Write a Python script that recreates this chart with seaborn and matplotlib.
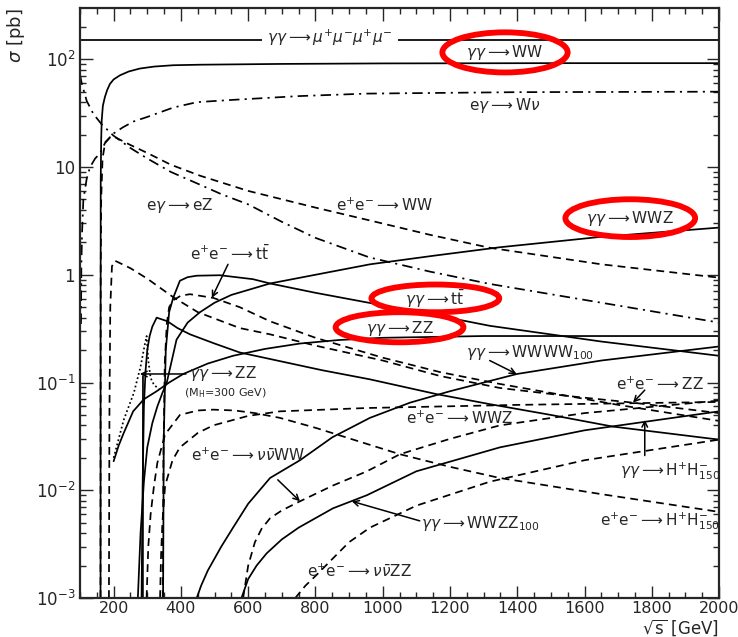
import numpy as np
import matplotlib
matplotlib.use("Agg")
import matplotlib.pyplot as plt
import seaborn as sns
from matplotlib.patches import Ellipse
from matplotlib.ticker import LogLocator, NullFormatter, FixedLocator, MultipleLocator

# --- curves (sqrt(s) in GeV, sigma in pb) ---
gg_4mu_x = [100, 2000]
gg_4mu_y = [150, 150]

gg_ww_x = [161, 161.3, 161.6, 163, 164.5, 168, 174, 181, 189, 200, 219, 245, 278, 320, 377, 457, 700, 1000, 1500, 2000]
gg_ww_y = [1e-3, 0.5, 7.5, 18, 27, 37, 44.6, 52, 59, 65, 71, 77, 82, 85.5, 88, 89, 90.5, 91.5, 92, 92]

eg_wnu_x = [103, 104, 106, 110, 120, 130, 145, 159, 174, 199, 228, 260, 298, 377, 448, 555, 750, 953, 1400, 2000]
eg_wnu_y = [0.35, 1.2, 2.4, 5, 7.8, 10, 12, 13.3, 16.6, 20.4, 23.4, 26.5, 29, 35.6, 40, 42, 45.5, 48, 49.5, 50]

eg_ez_x = [100, 105, 120, 140, 164, 199, 250, 300, 370, 450, 520, 600, 700, 800, 960, 1140, 1320, 1650, 2000]
eg_ez_y = [72, 60, 41, 31, 25, 19.6, 15, 12, 9, 7, 5.6, 4.5, 3.1, 2.2, 1.45, 1.07, 0.82, 0.55, 0.36]

ee_ww_x = [161, 161.5, 163, 167, 175, 190, 200, 250, 300, 370, 457, 600, 800, 960, 1140, 1318, 1650, 2000]
ee_ww_y = [1e-3, 1, 5, 12, 17, 19, 19.2, 16, 13.5, 10.5, 8.3, 6, 4.2, 3.2, 2.35, 1.78, 1.25, 0.94]

ee_zz_x = [186, 187.5, 190, 195, 204, 250, 300, 377, 450, 575, 665, 800, 1000, 1170, 1348, 1550, 1744, 2000]
ee_zz_y = [1e-3, 0.05, 0.5, 1.2, 1.35, 1.15, 0.92, 0.62, 0.45, 0.32, 0.28, 0.22, 0.16, 0.115, 0.089, 0.075, 0.065, 0.052]

ee_tt_x = [346, 348, 352, 358, 365, 377, 400, 427, 496, 575, 665, 800, 1000, 1170, 1348, 1700, 2000]
ee_tt_y = [1e-3, 0.02, 0.15, 0.35, 0.5, 0.58, 0.64, 0.66, 0.61, 0.5, 0.37, 0.26, 0.17, 0.125, 0.097, 0.062, 0.044]

gg_tt_x = [347, 349, 355, 365, 377, 397, 420, 447, 516, 614, 665, 800, 1000, 1160, 1318, 1650, 2000]
gg_tt_y = [1e-3, 0.03, 0.2, 0.45, 0.61, 0.88, 0.95, 0.98, 0.99, 0.91, 0.83, 0.68, 0.52, 0.42, 0.336, 0.24, 0.177]

gg_wwz_x = [272, 280, 290, 300, 315, 330, 345, 358, 387, 420, 457, 500, 550, 665, 800, 962, 1150, 1348, 1650, 2000]
gg_wwz_y = [1e-3, 0.004, 0.012, 0.025, 0.042, 0.06, 0.08, 0.1, 0.25, 0.36, 0.45, 0.55, 0.65, 0.83, 1.0, 1.25, 1.5, 1.8, 2.25, 2.74]

gg_zz_x = [200, 215, 230, 258, 290, 328, 365, 407, 480, 555, 650, 754, 870, 1000, 1300, 1600, 2000]
gg_zz_y = [0.0186, 0.026, 0.034, 0.054, 0.07, 0.083, 0.1, 0.12, 0.15, 0.177, 0.205, 0.23, 0.248, 0.26, 0.27, 0.27, 0.27]

gg_zz_mh_x = [200, 215, 230, 245, 260, 280, 292, 298, 303, 310, 320, 335]
gg_zz_mh_y = [0.02, 0.03, 0.045, 0.06, 0.08, 0.14, 0.22, 0.27, 0.16, 0.11, 0.095, 0.087]

gg_zz_peak_x = [287, 287.2]
gg_zz_peak_y = [1e-3, 0.115]

gg_hh_x = [283, 286, 290, 295, 300, 307, 315, 328, 360, 390, 427, 500, 575, 694, 820, 962, 1160, 1318, 1500, 1684, 2000]
gg_hh_y = [1e-3, 0.01, 0.06, 0.13, 0.2, 0.27, 0.33, 0.40, 0.37, 0.32, 0.28, 0.23, 0.19, 0.158, 0.13, 0.107, 0.078, 0.063, 0.05, 0.039, 0.0295]

gg_wwww_x = [447, 460, 480, 520, 555, 600, 665, 754, 850, 962, 1081, 1200, 1399, 1650, 2000]
gg_wwww_y = [1e-3, 0.0013, 0.0018, 0.003, 0.0045, 0.0075, 0.013, 0.019, 0.031, 0.047, 0.065, 0.083, 0.12, 0.16, 0.216]

gg_wwzz_x = [580, 600, 625, 655, 700, 750, 852, 953, 1100, 1348, 1600, 2000]
gg_wwzz_y = [1e-3, 0.0015, 0.002, 0.0026, 0.0035, 0.0045, 0.0068, 0.009, 0.015, 0.025, 0.036, 0.054]

ee_nnww_x = [585, 600, 620, 640, 665, 700, 754, 850, 953, 1051, 1200, 1348, 1600, 2000]
ee_nnww_y = [1e-3, 0.002, 0.0033, 0.0044, 0.0055, 0.0065, 0.0079, 0.011, 0.015, 0.0216, 0.03, 0.04, 0.052, 0.068]

ee_nnzz_x = [740, 770, 800, 850, 900, 962, 1100, 1318, 1600, 2000]
ee_nnzz_y = [1e-3, 0.0013, 0.0016, 0.0023, 0.0033, 0.0045, 0.0072, 0.012, 0.019, 0.0295]

ee_wwz_x = [338, 341, 345, 353, 375, 397, 450, 496, 600, 694, 953, 1400, 2000]
ee_wwz_y = [1e-3, 0.0025, 0.005, 0.011, 0.019, 0.025, 0.034, 0.04, 0.049, 0.054, 0.058, 0.062, 0.066]

ee_hh_x = [298, 303, 310, 320, 330, 353, 397, 450, 496, 560, 620, 694, 800, 920, 1051, 1200, 1348, 1650, 2000]
ee_hh_y = [1e-3, 0.003, 0.006, 0.011, 0.018, 0.033, 0.05, 0.055, 0.056, 0.055, 0.052, 0.047, 0.038, 0.029, 0.0216, 0.0165, 0.013, 0.0092, 0.0063]

x_ticks = [200, 400, 600, 800, 1000, 1200, 1400, 1600, 1800, 2000]
y_ticks = [1e-3, 1e-2, 1e-1, 1, 10, 100]
y_tick_labels = [r"$10^{-3}$", r"$10^{-2}$", r"$10^{-1}$", "1", "10", r"$10^{2}$"]

sns.set_style("ticks")
plt.rcParams["font.family"] = ["DejaVu Sans"]
plt.rcParams["mathtext.fontset"] = "dejavusans"

fig = plt.figure(figsize=(7.38, 6.37), dpi=100)
ax = fig.add_axes([0.1084, 0.0612, 0.866, 0.926])

SOLID = "-"
DASH = (0, (4.5, 3))
DASHDOT = (0, (6, 3, 1.2, 3))
DOT = (0, (1, 1.5))

curves = [
    (gg_4mu_x, gg_4mu_y, SOLID),
    (gg_ww_x, gg_ww_y, SOLID),
    (eg_wnu_x, eg_wnu_y, DASHDOT),
    (eg_ez_x, eg_ez_y, DASHDOT),
    (ee_ww_x, ee_ww_y, DASH),
    (ee_zz_x, ee_zz_y, DASH),
    (ee_tt_x, ee_tt_y, DASH),
    (gg_tt_x, gg_tt_y, SOLID),
    (gg_wwz_x, gg_wwz_y, SOLID),
    (gg_zz_x, gg_zz_y, SOLID),
    (gg_zz_mh_x, gg_zz_mh_y, DOT),
    (gg_zz_peak_x, gg_zz_peak_y, SOLID),
    (gg_hh_x, gg_hh_y, SOLID),
    (gg_wwww_x, gg_wwww_y, SOLID),
    (gg_wwzz_x, gg_wwzz_y, SOLID),
    (ee_nnww_x, ee_nnww_y, DASH),
    (ee_nnzz_x, ee_nnzz_y, DASH),
    (ee_wwz_x, ee_wwz_y, DASH),
    (ee_hh_x, ee_hh_y, DASH),
]
for xs, ys, ls in curves:
    sns.lineplot(x=xs, y=ys, ax=ax, color="black", lw=1.25, linestyle=ls,
                 estimator=None, sort=False)

ax.set_yscale("log")
ax.set_xlim(100, 2000)
ax.set_ylim(1e-3, 298)

ax.xaxis.set_major_locator(FixedLocator(x_ticks))
ax.xaxis.set_minor_locator(MultipleLocator(50))
ax.set_yticks(y_ticks)
ax.set_yticklabels(y_tick_labels)
ax.yaxis.set_minor_locator(LogLocator(base=10, subs=np.arange(2, 10)))
ax.yaxis.set_minor_formatter(NullFormatter())
ax.tick_params(which="both", direction="in", top=True, right=True, labelsize=12, width=1)
ax.tick_params(axis="x", pad=2, labelsize=11.5)
ax.tick_params(which="major", length=9)
ax.tick_params(which="minor", length=4.5)
for s in ax.spines.values():
    s.set_linewidth(1.6)

ax.set_xlabel(r"$\sqrt{\mathrm{s}}$ [GeV]", fontsize=12, ha="right", va="top")
ax.xaxis.set_label_coords(1.0, -0.0335)
ax.set_ylabel(r"$\sigma$ [pb]", loc="top", fontsize=13, labelpad=6)

fs = 11
txt = dict(fontsize=fs, ha="center", va="center")
ax.text(843, 157, r"$\gamma\gamma\longrightarrow\mu^{+}\mu^{-}\mu^{+}\mu^{-}$",
        bbox=dict(fc="white", ec="none", pad=4), **txt)
ax.text(1363, 116, r"$\gamma\gamma\longrightarrow\mathrm{WW}$", **txt)
ax.text(1363, 37, r"$\mathrm{e}\gamma\longrightarrow\mathrm{W}\nu$", **txt)
ax.text(397, 4.4, r"$\mathrm{e}\gamma\longrightarrow\mathrm{eZ}$", **txt)
ax.text(1006, 4.4, r"$\mathrm{e^{+}e^{-}}\longrightarrow\mathrm{WW}$", **txt)
ax.text(1735, 3.3, r"$\gamma\gamma\longrightarrow\mathrm{WWZ}$", **txt)
ax.text(546, 1.57, r"$\mathrm{e^{+}e^{-}}\longrightarrow\mathrm{t\bar{t}}$", **txt)
ax.text(1155, 0.6, r"$\gamma\gamma\longrightarrow\mathrm{t\bar{t}}$", **txt)
ax.text(1051, 0.32, r"$\gamma\gamma\longrightarrow\mathrm{ZZ}$", **txt)
ax.text(525, 0.12, r"$\gamma\gamma\longrightarrow\mathrm{ZZ}$", **txt)
ax.text(531, 0.08, r"$(\mathrm{M_{H}}$=300 GeV)", fontsize=8, ha="center", va="center")
ax.text(1437, 0.19, r"$\gamma\gamma\longrightarrow\mathrm{WWWW_{100}}$", **txt)
ax.text(1824, 0.097, r"$\mathrm{e^{+}e^{-}}\longrightarrow\mathrm{ZZ}$", **txt)
ax.text(1229, 0.046, r"$\mathrm{e^{+}e^{-}}\longrightarrow\mathrm{WWZ}$", **txt)
ax.text(1853, 0.015, r"$\gamma\gamma\longrightarrow\mathrm{H^{+}H^{-}_{150}}$", **txt)
ax.text(600, 0.021, r"$\mathrm{e^{+}e^{-}}\longrightarrow\nu\bar{\nu}\mathrm{WW}$", **txt)
ax.text(1289, 0.0049, r"$\gamma\gamma\longrightarrow\mathrm{WWZZ_{100}}$", **txt)
ax.text(1824, 0.0052, r"$\mathrm{e^{+}e^{-}}\longrightarrow\mathrm{H^{+}H^{-}_{150}}$", **txt)
ax.text(932, 0.00177, r"$\mathrm{e^{+}e^{-}}\longrightarrow\nu\bar{\nu}\mathrm{ZZ}$", **txt)

arr = dict(arrowstyle="->", lw=1.1, color="black", shrinkA=0, shrinkB=0)
ax.annotate("", xy=(492, 0.61), xytext=(540, 1.25), arrowprops=arr)
ax.annotate("", xy=(278, 0.12), xytext=(415, 0.12), arrowprops=arr)
ax.annotate("", xy=(1398, 0.12), xytext=(1318, 0.16), arrowprops=arr)
ax.annotate("", xy=(1744, 0.065), xytext=(1779, 0.085), arrowprops=arr)
ax.annotate("", xy=(1779, 0.045), xytext=(1779, 0.021), arrowprops=arr)
ax.annotate("", xy=(754, 0.0079), xytext=(688, 0.0125), arrowprops=arr)
ax.annotate("", xy=(908, 0.0079), xytext=(1110, 0.0052), arrowprops=arr)

# red highlight rings
rings = [(0.665, 0.925, 0.196, 0.068), (0.861, 0.644, 0.203, 0.064),
         (0.556, 0.508, 0.200, 0.047), (0.500, 0.459, 0.200, 0.051)]
for cx, cy, w, h in rings:
    ax.add_patch(Ellipse((cx, cy), w, h, transform=ax.transAxes, fill=False,
                         ec="red", lw=4.2, zorder=10, clip_on=False))

fig.savefig("out.png", dpi=100)
